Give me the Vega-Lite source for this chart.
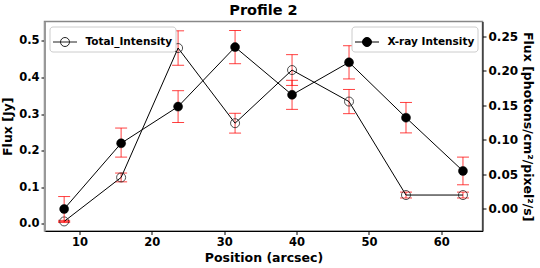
{
  "$schema": "https://vega.github.io/schema/vega-lite/v6.json",
  "width": 438,
  "height": 209.5,
  "autosize": "none",
  "padding": {"left": 44.5, "top": 21.5, "right": 57.5, "bottom": 37},
  "background": "white",
  "title": {"text": "Profile 2", "font": "DejaVu Sans", "fontSize": 14.5, "fontWeight": "bold", "color": "black", "offset": 3, "anchor": "middle"},
  "config": {
    "view": {"stroke": "#888", "strokeWidth": 1.5},
    "axis": {
      "labelFont": "DejaVu Sans", "labelFontSize": 11.5, "labelFontWeight": "bold", "labelColor": "black",
      "titleFont": "DejaVu Sans", "titleFontSize": 12.5, "titleFontWeight": "bold", "titleColor": "black",
      "tickColor": "black", "tickSize": 3.5, "tickWidth": 1, "labelPadding": 2, "grid": false,
      "domainColor": "black", "domainWidth": 1
    },
    "legend": {
      "title": null, "padding": 3, "strokeColor": "#ccc", "cornerRadius": 3, "fillColor": "white", "offset": 5,
      "symbolType": "M-1,0L1,0M-0.375,0A0.375,0.375,0,1,0,0.375,0A0.375,0.375,0,1,0,-0.375,0",
      "symbolSize": 576, "symbolStrokeWidth": 1, "symbolStrokeColor": "black",
      "labelFont": "DejaVu Sans", "labelFontSize": 10.5, "labelFontWeight": "bold", "labelColor": "black", "labelOffset": 8
    }
  },
  "data": {"values": [
    {"x": 7.875, "total": 0.007, "total_lo": 0.004, "total_hi": 0.010, "xray": 0.000, "xray_lo": -0.018, "xray_hi": 0.018},
    {"x": 15.75, "total": 0.127, "total_lo": 0.115, "total_hi": 0.139, "xray": 0.095, "xray_lo": 0.075, "xray_hi": 0.117},
    {"x": 23.625, "total": 0.480, "total_lo": 0.433, "total_hi": 0.527, "xray": 0.148, "xray_lo": 0.125, "xray_hi": 0.171},
    {"x": 31.5, "total": 0.275, "total_lo": 0.248, "total_hi": 0.302, "xray": 0.234, "xray_lo": 0.210, "xray_hi": 0.258},
    {"x": 39.375, "total": 0.420, "total_lo": 0.378, "total_hi": 0.462, "xray": 0.165, "xray_lo": 0.144, "xray_hi": 0.186},
    {"x": 47.25, "total": 0.334, "total_lo": 0.301, "total_hi": 0.367, "xray": 0.212, "xray_lo": 0.188, "xray_hi": 0.236},
    {"x": 55.125, "total": 0.079, "total_lo": 0.071, "total_hi": 0.087, "xray": 0.132, "xray_lo": 0.110, "xray_hi": 0.154},
    {"x": 63.0, "total": 0.079, "total_lo": 0.071, "total_hi": 0.087, "xray": 0.055, "xray_lo": 0.035, "xray_hi": 0.075}
  ]},
  "encoding": {
    "x": {"field": "x", "type": "quantitative",
      "scale": {"domain": [5.16, 65.7], "nice": false, "zero": false},
      "axis": {"values": [10, 20, 30, 40, 50, 60], "title": "Position (arcsec)", "titlePadding": 3}}
  },
  "layer": [
    {
      "layer": [
        {"mark": {"type": "rule", "color": "red", "opacity": 0.75, "strokeWidth": 1},
         "encoding": {
           "y": {"field": "total_lo", "type": "quantitative", "scale": {"domain": [-0.0191, 0.5524], "nice": false, "zero": false},
                 "axis": {"title": "Flux [Jy]", "values": [0, 0.1, 0.2, 0.3, 0.4, 0.5], "format": ".1f", "domainColor": "#999", "domainWidth": 2, "titlePadding": 4}},
           "y2": {"field": "total_hi"}}},
        {"mark": {"type": "tick", "orient": "horizontal", "size": 12, "thickness": 1, "color": "red", "opacity": 0.75},
         "encoding": {"y": {"field": "total_lo", "type": "quantitative", "scale": {"domain": [-0.0191, 0.5524], "nice": false, "zero": false},
                 "axis": {"title": "Flux [Jy]", "values": [0, 0.1, 0.2, 0.3, 0.4, 0.5], "format": ".1f", "domainColor": "#999", "domainWidth": 2, "titlePadding": 4}}}},
        {"mark": {"type": "tick", "orient": "horizontal", "size": 12, "thickness": 1, "color": "red", "opacity": 0.75},
         "encoding": {"y": {"field": "total_hi", "type": "quantitative", "scale": {"domain": [-0.0191, 0.5524], "nice": false, "zero": false},
                 "axis": {"title": "Flux [Jy]", "values": [0, 0.1, 0.2, 0.3, 0.4, 0.5], "format": ".1f", "domainColor": "#999", "domainWidth": 2, "titlePadding": 4}}}},
        {"mark": {"type": "line", "color": "black", "strokeWidth": 1},
         "encoding": {"y": {"field": "total", "type": "quantitative", "scale": {"domain": [-0.0191, 0.5524], "nice": false, "zero": false},
                 "axis": {"title": "Flux [Jy]", "values": [0, 0.1, 0.2, 0.3, 0.4, 0.5], "format": ".1f", "domainColor": "#999", "domainWidth": 2, "titlePadding": 4}}}},
        {"mark": {"type": "point", "shape": "circle", "filled": false, "size": 81, "strokeWidth": 0.8, "opacity": 1},
         "encoding": {"y": {"field": "total", "type": "quantitative", "scale": {"domain": [-0.0191, 0.5524], "nice": false, "zero": false},
                 "axis": {"title": "Flux [Jy]", "values": [0, 0.1, 0.2, 0.3, 0.4, 0.5], "format": ".1f", "domainColor": "#999", "domainWidth": 2, "titlePadding": 4}},
           "stroke": {"datum": "Total_Intensity", "type": "nominal", "scale": {"range": ["#222"]},
             "legend": {"orient": "top-left", "symbolFillColor": "transparent"}}}}
      ]
    },
    {
      "layer": [
        {"mark": {"type": "rule", "color": "red", "opacity": 0.75, "strokeWidth": 1},
         "encoding": {
           "y": {"field": "xray_lo", "type": "quantitative", "scale": {"domain": [-0.0318, 0.271], "nice": false, "zero": false},
                 "axis": {"orient": "right", "title": "Flux [photons/cm²/pixel²/s]", "values": [0, 0.05, 0.1, 0.15, 0.2, 0.25], "format": ".2f", "labelFontSize": 12, "titlePadding": 3}},
           "y2": {"field": "xray_hi"}}},
        {"mark": {"type": "tick", "orient": "horizontal", "size": 12, "thickness": 1, "color": "red", "opacity": 0.75},
         "encoding": {"y": {"field": "xray_lo", "type": "quantitative", "scale": {"domain": [-0.0318, 0.271], "nice": false, "zero": false},
                 "axis": {"orient": "right", "title": "Flux [photons/cm²/pixel²/s]", "values": [0, 0.05, 0.1, 0.15, 0.2, 0.25], "format": ".2f", "labelFontSize": 12, "titlePadding": 3}}}},
        {"mark": {"type": "tick", "orient": "horizontal", "size": 12, "thickness": 1, "color": "red", "opacity": 0.75},
         "encoding": {"y": {"field": "xray_hi", "type": "quantitative", "scale": {"domain": [-0.0318, 0.271], "nice": false, "zero": false},
                 "axis": {"orient": "right", "title": "Flux [photons/cm²/pixel²/s]", "values": [0, 0.05, 0.1, 0.15, 0.2, 0.25], "format": ".2f", "labelFontSize": 12, "titlePadding": 3}}}},
        {"mark": {"type": "line", "color": "black", "strokeWidth": 1},
         "encoding": {"y": {"field": "xray", "type": "quantitative", "scale": {"domain": [-0.0318, 0.271], "nice": false, "zero": false},
                 "axis": {"orient": "right", "title": "Flux [photons/cm²/pixel²/s]", "values": [0, 0.05, 0.1, 0.15, 0.2, 0.25], "format": ".2f", "labelFontSize": 12, "titlePadding": 3}}}},
        {"mark": {"type": "point", "shape": "circle", "filled": true, "size": 81, "stroke": "black", "strokeWidth": 0.5, "opacity": 1},
         "encoding": {"y": {"field": "xray", "type": "quantitative", "scale": {"domain": [-0.0318, 0.271], "nice": false, "zero": false},
                 "axis": {"orient": "right", "title": "Flux [photons/cm²/pixel²/s]", "values": [0, 0.05, 0.1, 0.15, 0.2, 0.25], "format": ".2f", "labelFontSize": 12, "titlePadding": 3}},
           "fill": {"datum": "X-ray Intensity", "type": "nominal", "scale": {"range": ["black"]},
             "legend": {"orient": "top-right", "symbolStrokeColor": "black"}}}}
      ]
    }
  ],
  "resolve": {
    "scale": {"y": "independent", "stroke": "independent", "fill": "independent"},
    "axis": {"y": "independent"},
    "legend": {"stroke": "independent", "fill": "independent"}
  }
}
